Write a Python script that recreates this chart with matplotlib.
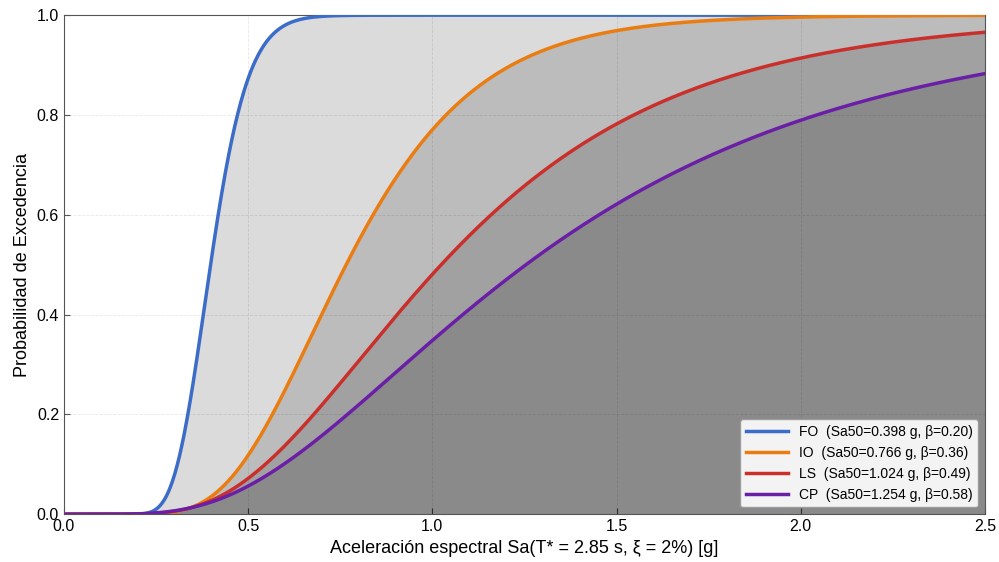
import math
import numpy as np
import matplotlib
matplotlib.use("Agg")
import matplotlib.pyplot as plt

plt.rcParams['font.family'] = ['Liberation Sans', 'DejaVu Sans']

# fragility parameters
states = ["FO", "IO", "LS", "CP"]
sa50 = [0.398, 0.766, 1.024, 1.254]
beta = [0.20, 0.36, 0.49, 0.58]
colors = ["#3b6cc8", "#ea7d12", "#c9302c", "#6a1fa6"]

x_ticks = [0.0, 0.5, 1.0, 1.5, 2.0, 2.5]
y_ticks = [0.0, 0.2, 0.4, 0.6, 0.8, 1.0]

sa = np.linspace(0.001, 2.5, 1200)


def lognorm_cdf(x, med, b):
    z = np.log(x / med) / b
    return np.array([0.5 * (1 + math.erf(v / math.sqrt(2))) for v in z])


fig = plt.figure(figsize=(9.99, 5.62), dpi=100)
ax = fig.add_axes([0.064, 0.085, 0.922, 0.888])

curves = [lognorm_cdf(sa, m, b) for m, b in zip(sa50, beta)]
# stacked translucent fills -> darker where more states are exceeded
for c in curves:
    ax.fill_between(sa, 0, c, color="black", alpha=0.14, lw=0, zorder=1)

for name, m, b, c, col in zip(states, sa50, beta, curves, colors):
    ax.plot(sa, c, color=col, lw=2.5, zorder=3,
            label="%s  (Sa50=%.3f g, β=%.2f)" % (name, m, b))

ax.set_xlim(0, 2.5)
ax.set_ylim(0, 1.0)
ax.set_xticks(x_ticks)
ax.set_yticks(y_ticks)
ax.tick_params(direction='in', labelsize=11.5, length=4, color="#555555")
ax.grid(True, ls='--', color='#dddddd', lw=0.6, alpha=0.7, zorder=0)
ax.set_axisbelow(True)
for s in ax.spines.values():
    s.set_color("#555555")

ax.set_xlabel("Aceleración espectral Sa(T* = 2.85 s, ξ = 2%) [g]", fontsize=13)
ax.set_ylabel("Probabilidad de Excedencia", fontsize=13)

leg = ax.legend(loc='lower right', fontsize=10, frameon=True, fancybox=True,
                framealpha=0.9, edgecolor="#999999", handlelength=3)

fig.savefig("out.png", dpi=100)
